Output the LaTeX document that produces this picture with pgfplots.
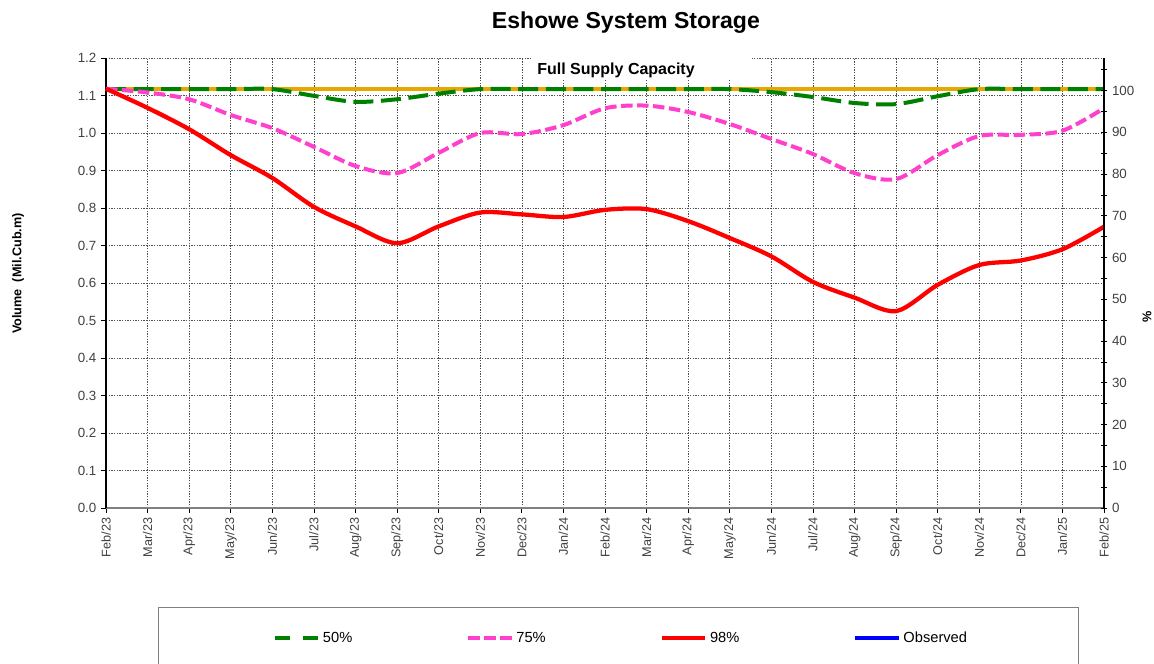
\documentclass[border=0pt]{standalone}
\usepackage{pgfplots}
\pgfplotsset{compat=1.18}
\usepackage{fontspec}
\setmainfont{Liberation Sans}
\definecolor{cgold}{HTML}{E6A800}
\definecolor{cgreen}{HTML}{008000}
\definecolor{cpink}{HTML}{FF40CC}
\definecolor{cblue}{HTML}{0000FF}
\definecolor{cgrid}{HTML}{505050}
\definecolor{ctick}{HTML}{404040}
\newcommand{\legtext}[2]{\makebox[#1][l]{#2}}
\begin{document}
\begin{tikzpicture}
\path[use as bounding box] (0,0) rectangle (865.5pt,498pt);
\begin{axis}[
  at={(79.5pt,117pt)}, anchor=south west,
  scale only axis, width=748.5pt, height=337.5pt,
  xmin=0, xmax=24, ymin=0, ymax=1.2,
  clip=false,
  axis x line*=bottom, axis y line*=left,
  axis line style={-},
  x axis line style={draw=gray, line width=0.8pt},
  y axis line style={draw=black, line width=0.8pt},
  xtick={0,1,2,3,4,5,6,7,8,9,10,11,12,13,14,15,16,17,18,19,20,21,22,23,24},
  xticklabels={Feb/23,Mar/23,Apr/23,May/23,Jun/23,Jul/23,Aug/23,Sep/23,Oct/23,Nov/23,Dec/23,Jan/24,Feb/24,Mar/24,Apr/24,May/24,Jun/24,Jul/24,Aug/24,Sep/24,Oct/24,Nov/24,Dec/24,Jan/25,Feb/25},
  ytick={0,0.1,0.2,0.3,0.4,0.5,0.6,0.7,0.8,0.9,1.0,1.1,1.2},
  yticklabel style={/pgf/number format/fixed, /pgf/number format/fixed zerofill, /pgf/number format/precision=1, font=\fontsize{10}{12}\selectfont, text=ctick},
  /pgf/number format/assume math mode=true,
  grid=major,
  grid style={cgrid, line width=0.5pt, dash pattern=on 1pt off 1pt},
  tick align=outside, major tick length=3.75pt,
  tick style={black, line width=0.6pt},
  xticklabel style={rotate=90, anchor=east, font=\fontsize{9.5}{11}\selectfont, text=ctick},
  title={Eshowe System Storage},
  title style={at={(0.521,1.062)}, anchor=center, font=\bfseries\fontsize{17.3}{20}\selectfont},
  ylabel={Volume\ \ (Mil.Cub.m)},
  ylabel style={at={(axis description cs:-0.0882,0.521)}, anchor=center, font=\bfseries\fontsize{9.5}{11}\selectfont},
  legend columns=4,
  legend style={at={(0.0521,-0.22)}, anchor=north west, draw=gray, fill=white,
    inner xsep=81.25pt, inner ysep=16.5pt, /tikz/column sep=0pt,
    nodes={inner sep=2pt, font=\fontsize{11}{13}\selectfont}},
  legend image code/.code={\draw[#1] (0pt,0pt) -- (32.6pt,0pt);},
]
\addplot[cgold, line width=3pt, forget plot] coordinates {(0,1.117) (24,1.117)};
\addplot[cgreen, line width=3pt, dash pattern=on 15pt off 5.7pt, smooth, tension=0.5, forget plot] coordinates {
(0,1.117) (1,1.117) (2,1.117) (3,1.117) (4,1.117) (5,1.099) (6,1.083) (7,1.090) (8,1.105)
(9,1.117) (10,1.117) (11,1.117) (12,1.117) (13,1.117) (14,1.117) (15,1.117) (16,1.109)
(17,1.096) (18,1.080) (19,1.077) (20,1.098) (21,1.117) (22,1.117) (23,1.117) (24,1.117)};
\addplot[cpink, line width=3pt, dash pattern=on 8.6pt off 3.4pt, smooth, tension=0.5, forget plot] coordinates {
(0,1.118) (1,1.108) (2,1.090) (3,1.048) (4,1.013) (5,0.963) (6,0.912) (7,0.893) (8,0.947)
(9,1.000) (10,0.997) (11,1.021) (12,1.066) (13,1.073) (14,1.056) (15,1.024) (16,0.984)
(17,0.944) (18,0.893) (19,0.877) (20,0.941) (21,0.992) (22,0.995) (23,1.006) (24,1.066)};
\addplot[red, line width=3.2pt, smooth, tension=0.5, forget plot] coordinates {
(0,1.118) (1,1.067) (2,1.010) (3,0.941) (4,0.880) (5,0.803) (6,0.751) (7,0.706) (8,0.751)
(9,0.788) (10,0.783) (11,0.776) (12,0.795) (13,0.797) (14,0.765) (15,0.720) (16,0.671)
(17,0.603) (18,0.561) (19,0.525) (20,0.595) (21,0.648) (22,0.660) (23,0.690) (24,0.750)};
\addlegendimage{legend image code/.code={\path (-6pt,0pt); \draw[cgreen, line width=3pt, dash pattern=on 11.3pt off 10pt] (0pt,0pt) -- (32.6pt,0pt);}}
\addlegendentry{\legtext{105.45pt}{50\%}}
\addlegendimage{cpink, line width=3pt, dash pattern=on 8.9pt off 2.95pt}
\addlegendentry{\legtext{105.45pt}{75\%}}
\addlegendimage{red, line width=3.2pt}
\addlegendentry{\legtext{105.45pt}{98\%}}
\addlegendimage{cblue, line width=3pt}
\addlegendentry{\legtext{48pt}{Observed}}
\node[fill=white, inner sep=0pt, minimum width=165.75pt, minimum height=18pt] at (axis cs:12.878,1.176) {};
\node[anchor=base, inner sep=0pt, font=\bfseries\fontsize{12}{14}\selectfont] at (axis cs:12.265,1.1547) {Full Supply Capacity};
\end{axis}
\begin{axis}[
  at={(79.5pt,117pt)}, anchor=south west,
  scale only axis, width=748.5pt, height=337.5pt,
  xmin=0, xmax=24, ymin=0, ymax=107.82,
  axis x line=none, axis y line*=right,
  axis line style={-, black, line width=0.8pt},
  ytick={0,10,20,30,40,50,60,70,80,90,100},
  minor ytick={5,15,25,35,45,55,65,75,85,95,105},
  tick align=center, major tick length=5pt, minor tick length=5pt,
  tick style={black, line width=0.6pt},
  /pgf/number format/assume math mode=true,
  yticklabel style={font=\fontsize{10}{12}\selectfont, text=ctick},
  ylabel={\%},
  ylabel style={at={(axis description cs:1.0431,0.4244)}, anchor=center, font=\bfseries\fontsize{9.5}{11}\selectfont},
]
\addplot[draw=none, forget plot] coordinates {(0,0)};
\end{axis}
\end{tikzpicture}
\end{document}
